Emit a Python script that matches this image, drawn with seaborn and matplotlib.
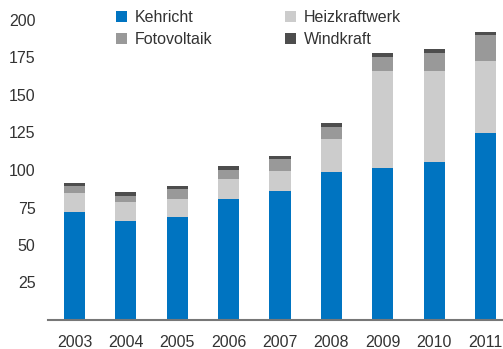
import numpy as np
import pandas as pd
import matplotlib
matplotlib.use("Agg")
import matplotlib.pyplot as plt
from matplotlib.patches import Patch
import seaborn as sns

years = ["2003", "2004", "2005", "2006", "2007", "2008", "2009", "2010", "2011"]
kehricht = [72, 66, 68.5, 80.5, 86, 98.5, 101.5, 105.5, 124.5]
heizkraftwerk = [12.5, 12.5, 12.5, 13.5, 13.5, 22, 64.5, 60.5, 48]
fotovoltaik = [4.5, 4.5, 6, 6, 7.5, 8, 9.5, 12, 17.5]
windkraft = [2.5, 2.5, 2, 2.5, 2.5, 2.5, 2.5, 2.5, 2]
y_ticks = [25, 50, 75, 100, 125, 150, 175, 200]

series_names = ["Kehricht", "Heizkraftwerk", "Fotovoltaik", "Windkraft"]
series_colors = ["#0074c1", "#cccccc", "#999999", "#4d4d4d"]

sns.set_theme(style="white")
plt.rcParams["font.family"] = ["Liberation Sans", "DejaVu Sans"]

W, H, DPI = 503, 349, 100
FS = 11.5
fig = plt.figure(figsize=(W / DPI, H / DPI), dpi=DPI)
ax = fig.add_axes([48 / W, (H - 320) / H, 455 / W, 315 / H])

df = pd.DataFrame({
    "year": years,
    "Kehricht": kehricht,
    "Heizkraftwerk": heizkraftwerk,
    "Fotovoltaik": fotovoltaik,
    "Windkraft": windkraft,
})
cum = df[series_names].cumsum(axis=1)

# stacked bars: draw cumulative totals from the top segment down
for name, color in reversed(list(zip(series_names, series_colors))):
    sns.barplot(x=df["year"], y=cum[name], color=color, width=0.41,
                order=years, ax=ax, saturation=1, edgecolor="none", linewidth=0)

ax.set_xlim(-0.515, 8.34)
ax.set_ylim(0, 210)
ax.set_yticks(y_ticks)
ax.set_xlabel("")
ax.set_ylabel("")
for s in ["top", "right", "left"]:
    ax.spines[s].set_visible(False)
ax.spines["bottom"].set_color("#777777")
ax.spines["bottom"].set_linewidth(1.5)
ax.tick_params(axis="both", length=0, labelsize=FS, labelcolor="#333333")
ax.tick_params(axis="x", pad=11)
ax.tick_params(axis="y", pad=9)

handles = [Patch(facecolor=c, edgecolor="none") for c in series_colors]
order = [0, 2, 1, 3]
fig.legend([handles[i] for i in order], [series_names[i] for i in order],
           ncol=2, loc="upper left", bbox_to_anchor=(116 / W, 1 - 10 / H),
           bbox_transform=fig.transFigure, frameon=False, fontsize=FS,
           borderpad=0, borderaxespad=0, handlelength=0.69, handleheight=0.69,
           handletextpad=0.5, columnspacing=4.5, labelspacing=0.42,
           labelcolor="#333333")

fig.savefig("out.png", dpi=DPI)
